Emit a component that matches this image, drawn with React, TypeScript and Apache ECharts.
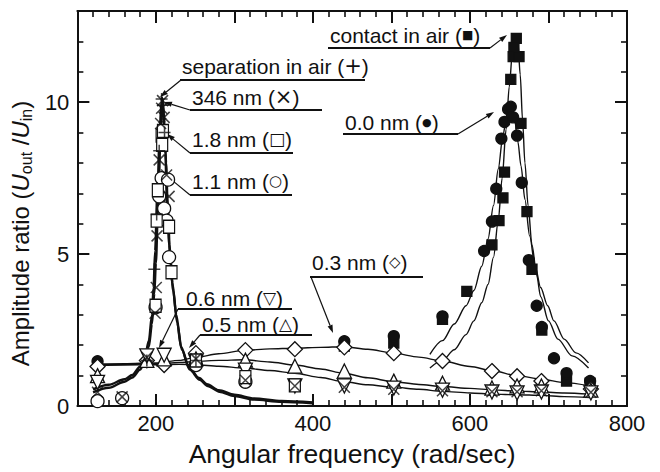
import React, { useEffect, useRef } from "react";
import * as echarts from "echarts";

const FONT = '"Liberation Sans", Arial, Helvetica, sans-serif';
const SYMFONT = '"DejaVu Sans", "Liberation Sans", sans-serif';
const INK = "#111";

// ---- axis ranges / tick labels ----
const xRange = [100, 800];
const yRange = [0, 13];
const xLabelValues = [200, 400, 600, 800];
const yLabelValues = [0, 5, 10];

// ---- fitted resonance curves (low-frequency peak, thick) ----
const fitLowOuter = [[120,0.55],[140,0.7],[160,0.88],[170,1.02],[180,1.3],[186,1.6],[191,2.15],[195,3.0],[197,3.9],[199,5.1],[202,7.1],[205,9.1],[207,10.0],[208,10.15],[210,9.6],[212,8.3],[214,6.9],[217,5.3],[221,4.05],[226,3.0],[232,1.95],[242,1.28],[255,0.92],[265,0.72],[280,0.52],[300,0.37],[325,0.25],[360,0.17],[400,0.12]];
const fitLowInner = [[120,0.45],[140,0.6],[160,0.8],[170,0.94],[180,1.2],[186,1.48],[191,1.95],[195,2.7],[198,3.7],[200,4.7],[203,6.8],[206,8.9],[208,9.8],[209,9.95],[211,9.3],[213,8.0],[215,6.6],[218,5.0],[222,3.8],[227,2.75],[233,1.85],[243,1.2],[256,0.86],[266,0.66],[281,0.47],[300,0.33],[325,0.21],[360,0.14],[400,0.09]];

// ---- fitted curves (high-frequency peak, thin) ----
const fitContact = [[549,1.25],[565,1.5],[580,1.85],[595,2.35],[605,2.8],[615,3.4],[623,4.0],[630,4.9],[636,6.1],[641,7.5],[646,9.1],[650,10.5],[654,11.6],[657,12.1],[659,12.2],[661,12.0],[664,10.9],[667,9.4],[670,8.0],[674,6.6],[679,5.3],[685,4.3],[690,3.6],[700,2.8],[712,2.2],[730,1.65],[751,1.25]];
const fitZero = [[549,1.7],[565,2.15],[580,2.7],[595,3.3],[605,3.8],[615,4.6],[623,5.5],[630,6.6],[636,7.8],[642,8.9],[647,9.6],[650,9.8],[653,9.75],[657,9.4],[661,8.7],[665,7.9],[670,6.8],[676,5.6],[683,4.6],[690,3.9],[699,3.3],[707,2.8],[720,2.2],[735,1.75],[751,1.42]];

// ---- fitted curves through small-amplitude data (thin) ----
const line03 = [[125,1.38],[160,1.39],[200,1.42],[230,1.5],[251,1.6],[280,1.72],[312,1.83],[345,1.88],[377,1.9],[410,1.93],[439,1.95],[470,1.87],[502,1.74],[535,1.61],[565,1.48],[600,1.3],[630,1.15],[660,1.0],[691,0.88],[720,0.77],[753,0.66]];
const line05 = [[125,1.36],[160,1.37],[200,1.39],[230,1.43],[251,1.47],[280,1.5],[312,1.52],[345,1.45],[377,1.35],[410,1.22],[439,1.08],[470,0.93],[502,0.8],[535,0.71],[565,0.64],[600,0.58],[630,0.53],[660,0.49],[691,0.46],[720,0.43],[753,0.39]];
const line06 = [[125,1.34],[160,1.35],[200,1.36],[230,1.37],[251,1.36],[280,1.31],[312,1.25],[345,1.17],[377,1.08],[410,0.94],[439,0.8],[470,0.7],[502,0.62],[535,0.55],[565,0.48],[600,0.43],[630,0.39],[660,0.37],[691,0.35],[720,0.31],[753,0.28]];

// ---- measured points ----
const contactAir = [[440,1.97],[503,2.07],[565,2.85],[596,3.77],[628,5.3],[637,6.1],[642,6.85],[644,7.7],[652,10.75],[655,11.5],[656,11.8],[659,12.1],[662.5,11.5],[665,9.3],[672.6,6.4],[679,4.5],[691.5,2.5],[723,0.82],[753,0.75]];
const nm00 = [[125.7,1.47],[440,2.13],[503,2.3],[565,2.95],[618,5.1],[628,6.07],[633.5,7.15],[640,8.8],[644,9.35],[648.6,9.77],[652,9.85],[655,9.5],[660,8.9],[666,7.35],[675,4.8],[685,3.3],[691.5,2.6],[707,1.57],[723,1.08],[753,0.82]];
const nm03 = [[125.7,1.3],[188.5,1.5],[210.5,1.35],[251,1.74],[314,1.84],[377,1.87],[440,1.93],[503,1.74],[565,1.48],[628,1.15],[660,0.98],[691,0.82],[754,0.56]];
const nm05 = [[125.7,1.0],[188.5,1.5],[210.5,1.55],[251,1.55],[314,1.51],[377,1.31],[440,1.15],[503,0.82],[565,0.75],[628,0.59],[660,0.66],[691,0.66],[754,0.52]];
const nm06 = [[125.7,0.78],[188.5,1.65],[210.5,1.67],[251,1.45],[314,1.18],[377,0.66],[440,0.66],[503,0.59],[565,0.52],[628,0.46],[660,0.43],[691,0.46],[754,0.43]];
const nm11 = [[125.7,0.16],[157,0.26],[199.6,3.25],[204.2,6.9],[207.3,7.5],[210.5,6.5],[213.6,6.1],[215.5,7.45],[216.8,4.9],[251,1.35],[314,0.8]];
const nm18 = [[199.6,3.3],[201,6.1],[202.5,7.1],[207.3,8.9],[208,8.6],[209,9.05],[216.8,5.9],[219.9,4.4],[251,1.5],[314,0.95],[377,0.68]];
const nm346 = [[125.7,0.45],[157,0.3],[188.5,1.6],[199,3.05],[200.5,3.9],[201.5,5.6],[204.2,8.1],[206,9.3],[207.3,9.8],[208.5,10.05],[210.5,9.5],[213.6,7.6],[216.8,6.9],[251,1.55],[314,0.85],[377,0.66],[440,0.62],[503,0.55],[565,0.5],[628,0.47],[660,0.47],[691,0.5],[754,0.45]];
const sepAir = [[188.5,1.5],[198,4.5],[201,6.3],[204.2,8.4],[207.3,10.1],[209,9.9],[211,9.0],[251,1.5]];

// ---- annotation labels ----
const annTexts = ["contact in air (", "separation in air (", "346 nm (", "1.8 nm (", "1.1 nm (", "0.0 nm (", "0.3 nm (", "0.6 nm (", "0.5 nm ("];
const annSymbols = ["■", "+", "×", "□", "○", "●", "◇", "▽", "△"];
// layout of annotations (pixels): text x, text center y, underline x1, x2, y, leader start x,y, tip x,y, symbol size
const annLayout = [
  [330, 35, 328, 490, 48, 490, 48, 507, 35, 12],
  [182, 66, 180, 365, 80, 181, 80, 160, 97, 21],
  [192, 97, 190, 322, 110, 190, 110, 164, 102, 21],
  [192, 139, 190, 293, 153, 190, 153, 167, 134, 17],
  [192, 181, 190, 292, 195, 190, 195, 167, 176, 15],
  [345, 122, 343, 458, 134, 458, 134, 494, 112, 11],
  [312, 262, 310, 423, 277, 311, 277, 333, 333, 15],
  [186, 298, 178, 292, 309, 178, 309, 159, 348, 17],
  [202, 324, 200, 312, 335, 200, 335, 189, 348, 17],
];

function arrowHead(x1: number, y1: number, x2: number, y2: number) {
  const dx = x2 - x1, dy = y2 - y1;
  const l = Math.sqrt(dx * dx + dy * dy) || 1;
  const ux = dx / l, uy = dy / l;
  const nx = -uy, ny = ux;
  const L = 8, h = 2.6;
  return [
    [x2, y2],
    [x2 - ux * L + nx * h, y2 - uy * L + ny * h],
    [x2 - ux * L - nx * h, y2 - uy * L - ny * h],
  ];
}

function buildGraphics() {
  const els: any[] = [];
  annTexts.forEach((t, i) => {
    const [tx, ty, u1, u2, uy, sx, sy, ex, ey, ss] = annLayout[i];
    els.push({
      type: "text",
      x: tx,
      y: ty,
      silent: true,
      style: {
        text: `{t|${t}}{s|${annSymbols[i]}}{t|)}`,
        align: "left",
        verticalAlign: "middle",
        rich: {
          t: { fontSize: 21, fontFamily: FONT, fill: INK },
          s: { fontSize: ss, fontFamily: SYMFONT, fill: INK },
        },
      },
    });
    els.push({
      type: "line",
      silent: true,
      shape: { x1: u1, y1: uy, x2: u2, y2: uy },
      style: { stroke: INK, lineWidth: 2.2 },
    });
    const ah = arrowHead(sx, sy, ex, ey);
    els.push({
      type: "line",
      silent: true,
      shape: { x1: sx, y1: sy, x2: (ah[1][0] + ah[2][0]) / 2, y2: (ah[1][1] + ah[2][1]) / 2 },
      style: { stroke: INK, lineWidth: 1.2 },
    });
    els.push({
      type: "polygon",
      silent: true,
      shape: { points: ah },
      style: { fill: INK },
    });
  });
  return els;
}

function makeX(position: "bottom" | "top", withLabels: boolean) {
  return {
    type: "value",
    position,
    min: xRange[0],
    max: xRange[1],
    interval: 100,
    axisLine: { show: true, onZero: false, lineStyle: { color: INK, width: 2 } },
    axisTick: { show: true, inside: true, length: 12, lineStyle: { color: INK, width: 2 } },
    minorTick: { show: true, splitNumber: 5, length: 6, lineStyle: { color: INK, width: 1.6 } },
    splitLine: { show: false },
    minorSplitLine: { show: false },
    axisLabel: {
      show: withLabels,
      margin: 6,
      fontSize: 22,
      fontFamily: FONT,
      color: INK,
      formatter: (v: number) => (xLabelValues.indexOf(v) >= 0 ? String(v) : ""),
    },
    name: withLabels ? "Angular frequency (rad/sec)" : "",
    nameLocation: "middle",
    nameGap: 34,
    nameTextStyle: { fontSize: 26.5, fontFamily: FONT, color: INK },
  };
}

function makeY(position: "left" | "right", interval: number, tickLen: number, withLabels: boolean) {
  return {
    type: "value",
    position,
    min: yRange[0],
    max: yRange[1],
    interval,
    axisLine: { show: true, onZero: false, lineStyle: { color: INK, width: 2 } },
    axisTick: { show: true, inside: true, length: tickLen, lineStyle: { color: INK, width: tickLen > 8 ? 2 : 1.6 } },
    splitLine: { show: false },
    axisLabel: {
      show: withLabels,
      margin: 8,
      fontSize: 22,
      fontFamily: FONT,
      color: INK,
      formatter: (v: number) => (yLabelValues.indexOf(v) >= 0 ? String(v) : ""),
    },
    name: withLabels ? "{a|Amplitude ratio (}{i|U}{s|out}{a| /}{i|U}{s|in}{a|)}" : "",
    nameLocation: "middle",
    nameGap: 34,
    nameTextStyle: {
      color: INK,
      padding: [0, 50, 0, 0],
      rich: {
        a: { fontSize: 24, fontFamily: FONT, color: INK, lineHeight: 28 },
        i: { fontSize: 24, fontFamily: FONT, fontStyle: "italic", color: INK, lineHeight: 28 },
        s: { fontSize: 16, fontFamily: FONT, color: INK, verticalAlign: "bottom", lineHeight: 16 },
      },
    },
  };
}

function lineSeries(data: number[][], width: number) {
  return {
    type: "line",
    data,
    symbol: "none",
    showSymbol: false,
    smooth: 0.3,
    smoothMonotone: "x",
    silent: true,
    z: 2,
    lineStyle: { color: INK, width },
  };
}

const CROSS = "path://M0,0L10,10M10,0L0,10";
const PLUS = "path://M5,0L5,10M0,5L10,5";

function markerSeries(data: number[][], symbol: string, size: any, fill: string, extra: any = {}) {
  return {
    type: "scatter",
    data,
    symbol,
    symbolSize: size,
    silent: true,
    z: 3,
    itemStyle: { color: fill, borderColor: INK, borderWidth: 1.3, opacity: 1 },
    ...extra,
  };
}

const option: any = {
  animation: false,
  backgroundColor: "#fff",
  textStyle: { fontFamily: FONT },
  grid: { left: 72, right: 33, top: 11, bottom: 64 },
  xAxis: [makeX("bottom", true), makeX("top", false)],
  yAxis: [
    makeY("left", 1, 6, true),
    makeY("left", 5, 12, false),
    makeY("right", 1, 6, false),
    makeY("right", 5, 12, false),
  ],
  series: [
    lineSeries(fitLowOuter, 2.4),
    lineSeries(fitLowInner, 2.4),
    lineSeries(fitContact, 1.4),
    lineSeries(fitZero, 1.4),
    lineSeries(line03, 1.4),
    lineSeries(line05, 1.4),
    lineSeries(line06, 1.4),
    markerSeries(contactAir, "rect", 10, INK),
    markerSeries(nm00, "circle", 11, INK),
    markerSeries(nm03, "diamond", 15, "#fff"),
    markerSeries(nm05, "triangle", 14, "#fff"),
    markerSeries(nm06, "triangle", 14, "#fff", { symbolRotate: 180 }),
    markerSeries(nm11, "circle", 13, "#fff"),
    markerSeries(nm18, "rect", [11, 13], "#fff"),
    markerSeries(nm346, CROSS, 11, "none", { itemStyle: { color: "none", borderColor: INK, borderWidth: 1.5 } }),
    markerSeries(sepAir, PLUS, 12, "none", { itemStyle: { color: "none", borderColor: INK, borderWidth: 1.5 } }),
  ],
  graphic: buildGraphics(),
};

export default function App() {
  const ref = useRef<HTMLDivElement>(null);
  useEffect(() => {
    if (!ref.current) return;
    const chart = echarts.init(ref.current, null, { renderer: "svg" });
    chart.setOption(option);
    return () => chart.dispose();
  }, []);
  return (
    <div
      ref={ref}
      style={{ position: "fixed", left: 0, top: 0, width: 660, height: 472, background: "#fff" }}
    />
  );
}
